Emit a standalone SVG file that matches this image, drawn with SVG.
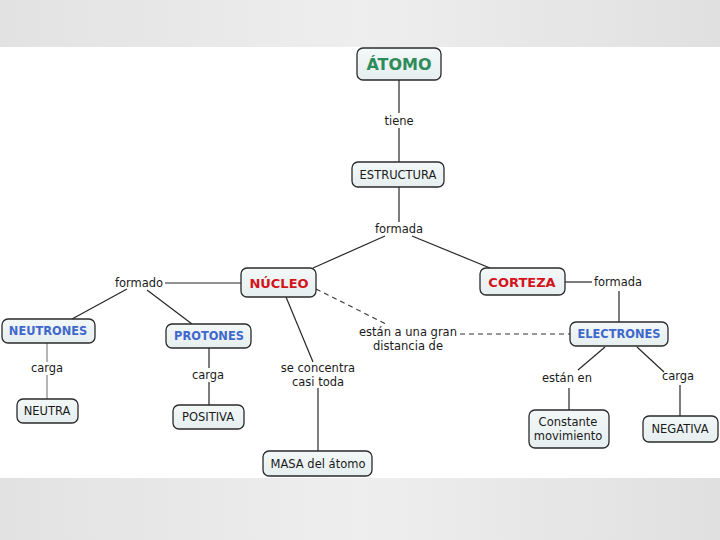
<svg xmlns="http://www.w3.org/2000/svg" width="720" height="540" viewBox="0 0 720 540">
<defs>
<linearGradient id="bg" x1="0" y1="0" x2="1" y2="0">
<stop offset="0" stop-color="#e2e2e2"/><stop offset="0.5" stop-color="#eeeeee"/><stop offset="1" stop-color="#e0e0e0"/>
</linearGradient>
<linearGradient id="nf" x1="0" y1="0" x2="0" y2="1">
<stop offset="0" stop-color="#f3f8f8"/><stop offset="1" stop-color="#e6eeef"/>
</linearGradient>
<style>
.n{fill:url(#nf);stroke:#2a2a2a;stroke-width:1.3}
.t{font-family:"DejaVu Sans",Verdana,sans-serif;font-size:11.5px;fill:#1a1a1a;text-anchor:middle}
.l{font-family:"DejaVu Sans",Verdana,sans-serif;font-size:11.5px;fill:#1a1a1a;text-anchor:middle}
.g{font-family:"DejaVu Sans",Verdana,sans-serif;font-weight:bold;font-size:16px;fill:#2e8b5a;text-anchor:middle}
.r{font-family:"DejaVu Sans",Verdana,sans-serif;font-weight:bold;font-size:13px;fill:#d4141c;text-anchor:middle}
.b{font-family:"DejaVu Sans",Verdana,sans-serif;font-weight:bold;font-size:11.4px;fill:#4068cc;text-anchor:middle}
.c{stroke:#262626;stroke-width:1.2;fill:none}
.cg{stroke:#777;stroke-width:1.1;fill:none}
.d{stroke:#333;stroke-width:1.1;fill:none;stroke-dasharray:5 4}
</style>
</defs>
<rect x="0" y="0" width="720" height="540" fill="#ffffff"/>
<rect x="0" y="0" width="720" height="47" fill="url(#bg)"/>
<rect x="0" y="478" width="720" height="62" fill="url(#bg)"/>
<g id="connectors">
<line class="c" x1="399" y1="80" x2="399" y2="113"/>
<line class="c" x1="399" y1="128" x2="399" y2="162"/>
<line class="c" x1="399" y1="187" x2="399" y2="222"/>
<line class="c" x1="385" y1="236" x2="313" y2="268"/>
<line class="c" x1="412" y1="236" x2="490" y2="268"/>
<line class="c" x1="165" y1="283" x2="241" y2="283"/>
<line class="c" x1="127" y1="289" x2="72" y2="319"/>
<line class="c" x1="147" y1="290" x2="192" y2="324"/>
<line class="cg" x1="47" y1="343" x2="47" y2="362"/>
<line class="cg" x1="47" y1="375" x2="47" y2="399"/>
<line class="c" x1="209" y1="348" x2="209" y2="368"/>
<line class="c" x1="209" y1="382" x2="209" y2="405"/>
<line class="c" x1="286" y1="297" x2="313" y2="362"/>
<line class="c" x1="318" y1="388" x2="318" y2="451"/>
<line class="d" x1="316" y1="289" x2="386" y2="324"/>
<line class="d" x1="460" y1="334" x2="570" y2="334"/>
<line class="c" x1="565" y1="282" x2="592" y2="282"/>
<line class="c" x1="619" y1="291" x2="619" y2="322"/>
<line class="c" x1="605" y1="347" x2="578" y2="370"/>
<line class="c" x1="569" y1="388" x2="569" y2="410"/>
<line class="c" x1="637" y1="347" x2="664" y2="372"/>
<line class="c" x1="680" y1="385" x2="680" y2="416"/>
</g>
<g id="labels">
<text class="l" x="399" y="125">tiene</text>
<text class="l" x="399" y="233">formada</text>
<text class="l" x="139" y="287">formado</text>
<text class="l" x="618" y="286">formada</text>
<text class="l" x="47" y="372">carga</text>
<text class="l" x="208" y="379">carga</text>
<text class="l" x="318" y="372">se concentra</text>
<text class="l" x="318" y="386">casi toda</text>
<text class="l" x="408" y="336">están a una gran</text>
<text class="l" x="408" y="350">distancia de</text>
<text class="l" x="567" y="382">están en</text>
<text class="l" x="678" y="380">carga</text>
</g>
<g id="atomo"><rect class="n" x="357" y="48" width="84" height="32" rx="6"/><text class="g" x="399" y="70">ÁTOMO</text></g>
<g id="estructura"><rect class="n" x="352" y="162" width="92" height="25" rx="6"/><text class="t" x="398" y="179">ESTRUCTURA</text></g>
<g id="nucleo"><rect class="n" x="241" y="268" width="75" height="29" rx="6"/><text class="r" x="279" y="288">NÚCLEO</text></g>
<g id="corteza"><rect class="n" x="480" y="268" width="85" height="27" rx="6"/><text class="r" x="522" y="287">CORTEZA</text></g>
<g id="neutrones"><rect class="n" x="2" y="319" width="93" height="24" rx="6"/><text class="b" x="48" y="335">NEUTRONES</text></g>
<g id="protones"><rect class="n" x="166" y="324" width="85" height="24" rx="6"/><text class="b" x="209" y="340">PROTONES</text></g>
<g id="electrones"><rect class="n" x="570" y="322" width="98" height="24" rx="6"/><text class="b" x="619" y="338">ELECTRONES</text></g>
<g id="neutra"><rect class="n" x="17" y="399" width="61" height="24" rx="6"/><text class="t" x="47" y="415">NEUTRA</text></g>
<g id="positiva"><rect class="n" x="173" y="405" width="71" height="24" rx="6"/><text class="t" x="208" y="421">POSITIVA</text></g>
<g id="masa"><rect class="n" x="263" y="451" width="109" height="25" rx="6"/><text class="t" x="318" y="468">MASA del átomo</text></g>
<g id="constante"><rect class="n" x="529" y="410" width="80" height="38" rx="6"/><text class="t" x="568" y="426">Constante</text><text class="t" x="568" y="440">movimiento</text></g>
<g id="negativa"><rect class="n" x="643" y="416" width="75" height="26" rx="6"/><text class="t" x="680" y="433">NEGATIVA</text></g>
</svg>
